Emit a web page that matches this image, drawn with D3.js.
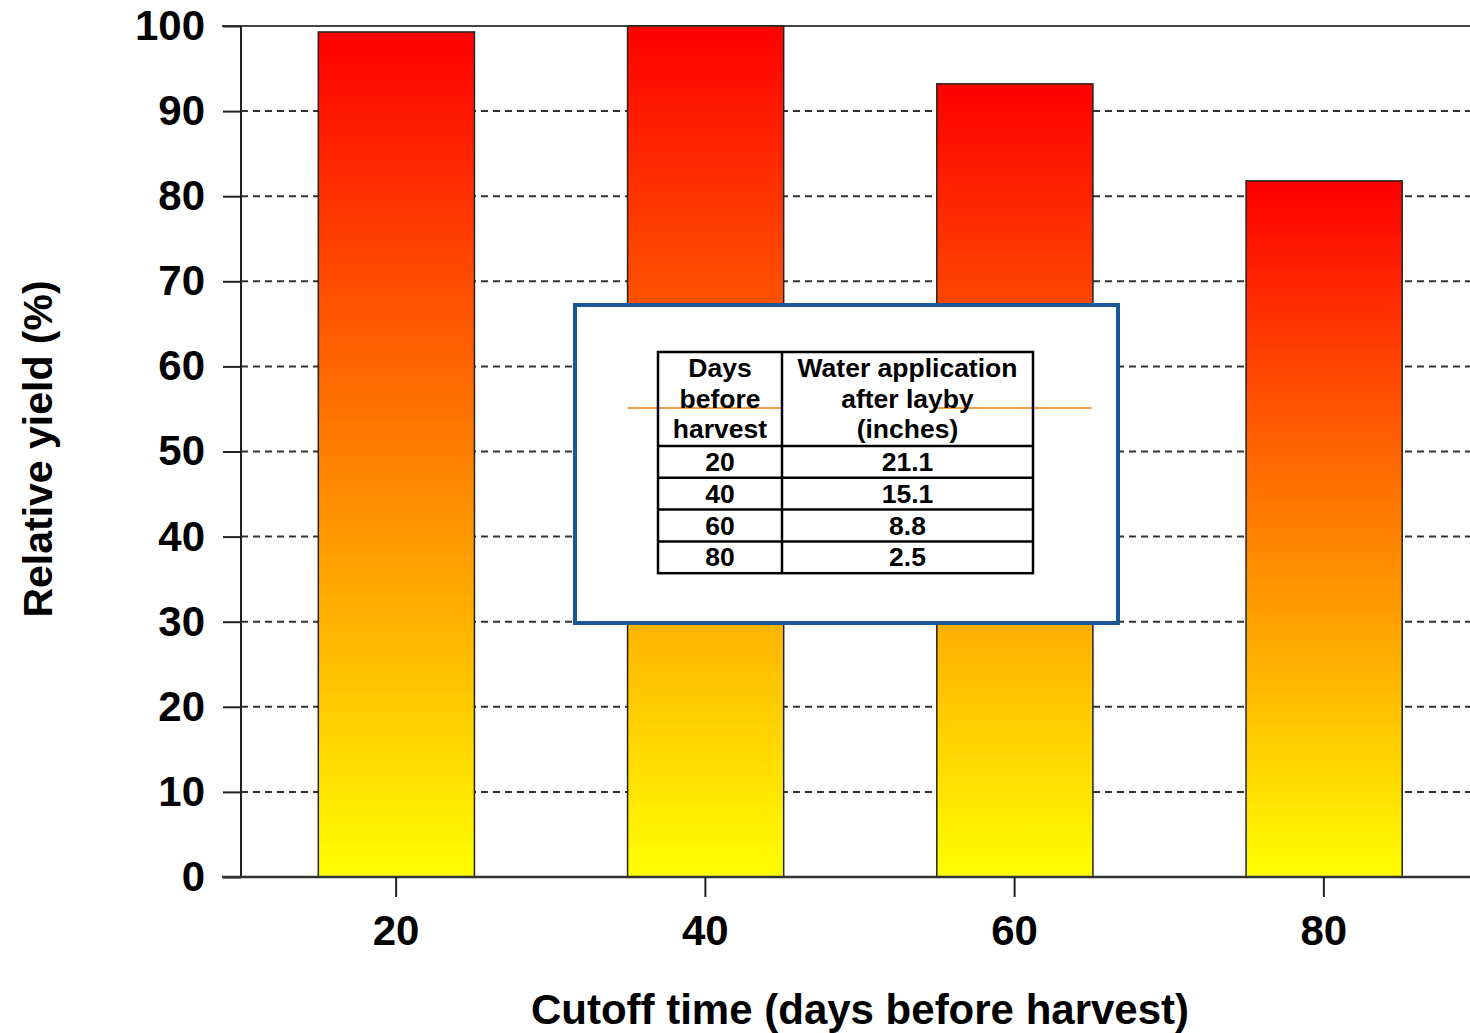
<!DOCTYPE html>
<html>
<head>
<meta charset="utf-8">
<script src="https://cdn.jsdelivr.net/npm/d3@7"></script>
<style>
  html, body { margin: 0; padding: 0; background: #fff; }
  svg { display: block; font-family: "Liberation Sans", Arial, sans-serif; }
</style>
</head>
<body>
<svg id="chart" width="1470" height="1033"></svg>
<script>
// Cutoff time (days before harvest) and relative yield (%)
const cutoffDays = [20, 40, 60, 80];
const relativeYield = [99.3, 100, 93.2, 81.8];
const yTicks = [0, 10, 20, 30, 40, 50, 60, 70, 80, 90, 100];

// Inset table: water applied after layby
const tableHeader = [["Days", "before", "harvest"], ["Water application", "after layby", "(inches)"]];
const tableDays = ["20", "40", "60", "80"];
const tableWater = ["21.1", "15.1", "8.8", "2.5"];

// Thin orange reference line at this yield level
const refLevel = 55.1;

const svg = d3.select("#chart");
const x = d3.scaleLinear().domain([10, 90]).range([241, 1478]);
const y = d3.scaleLinear().domain([0, 100]).range([877, 26]);
const barHalf = 5;

// Vertical red-to-yellow gradient for each bar
const defs = svg.append("defs");
const grad = defs.append("linearGradient")
  .attr("id", "barGrad").attr("x1", 0).attr("y1", 0).attr("x2", 0).attr("y2", 1);
grad.append("stop").attr("offset", "0%").attr("stop-color", "#ff0000");
grad.append("stop").attr("offset", "100%").attr("stop-color", "#ffff00");

// Dashed gridlines
svg.append("g").selectAll("line")
  .data(yTicks.filter(d => d > 0 && d < 100))
  .join("line")
  .attr("x1", x(10)).attr("x2", 1470)
  .attr("y1", d => y(d)).attr("y2", d => y(d))
  .attr("stroke", "#333").attr("stroke-width", 2)
  .attr("stroke-dasharray", "7,5");

// Solid top line at 100
svg.append("line")
  .attr("x1", 222).attr("x2", 1470).attr("y1", y(100)).attr("y2", y(100))
  .attr("stroke", "#444").attr("stroke-width", 2);

// Bars
svg.append("g").selectAll("rect")
  .data(cutoffDays.map((d, i) => ({ d, v: relativeYield[i] })))
  .join("rect")
  .attr("x", p => x(p.d - barHalf))
  .attr("width", p => x(p.d + barHalf) - x(p.d - barHalf) + 1.5)
  .attr("y", p => y(p.v))
  .attr("height", p => y(0) - y(p.v))
  .attr("fill", "url(#barGrad)")
  .attr("stroke", "#222").attr("stroke-width", 1.5);

// Y axis
const yAxis = svg.append("g").attr("transform", `translate(${x(10)},0)`)
  .call(d3.axisLeft(y).tickValues(yTicks).tickSize(18).tickPadding(18));
yAxis.select(".domain").attr("stroke", "#222").attr("stroke-width", 2)
  .attr("d", `M0,${y(0)}V${y(100)}`);
yAxis.selectAll(".tick line").attr("stroke", "#222").attr("stroke-width", 2);
yAxis.selectAll(".tick text")
  .attr("font-size", 42).attr("font-weight", "bold").attr("fill", "#000")
  .attr("font-family", "'Liberation Sans', Arial, sans-serif");

// X axis
const xAxis = svg.append("g").attr("transform", `translate(0,${y(0)})`)
  .call(d3.axisBottom(x).tickValues(cutoffDays).tickSize(20).tickPadding(18));
xAxis.select(".domain").attr("stroke", "#333").attr("stroke-width", 2.5)
  .attr("d", `M222,0H1470`);
xAxis.selectAll(".tick line").attr("stroke", "#222").attr("stroke-width", 2);
xAxis.selectAll(".tick text")
  .attr("font-size", 42).attr("font-weight", "bold").attr("fill", "#000")
  .attr("font-family", "'Liberation Sans', Arial, sans-serif");

// Axis titles
svg.append("text")
  .attr("x", 860).attr("y", 1024)
  .attr("text-anchor", "middle")
  .attr("font-size", 42).attr("font-weight", "bold")
  .text("Cutoff time (days before harvest)");

svg.append("text")
  .attr("transform", "translate(52,449) rotate(-90)")
  .attr("text-anchor", "middle")
  .attr("font-size", 41).attr("font-weight", "bold")
  .text("Relative yield (%)");

// Inset box with the water table
const box = svg.append("g");
box.append("rect")
  .attr("x", 575).attr("y", 305).attr("width", 543).attr("height", 318)
  .attr("fill", "#fff").attr("stroke", "#1b5699").attr("stroke-width", 4);

const tx0 = 658, tx1 = 782, tx2 = 1033;
const headTop = 352, headBottom = 446, rowH = 31.8;
const tableBottom = headBottom + rowH * tableDays.length;

// Orange reference line segments across the two middle bars
svg.append("g").selectAll("line")
  .data([40, 60])
  .join("line")
  .attr("x1", d => x(d - barHalf)).attr("x2", d => x(d + barHalf))
  .attr("y1", y(refLevel)).attr("y2", y(refLevel))
  .attr("stroke", "#f07a10").attr("stroke-width", 1.5);

const tbl = svg.append("g");
tbl.append("rect")
  .attr("x", tx0).attr("y", headTop).attr("width", tx2 - tx0).attr("height", tableBottom - headTop)
  .attr("fill", "none").attr("stroke", "#000").attr("stroke-width", 2.5);
tbl.append("line").attr("x1", tx1).attr("x2", tx1).attr("y1", headTop).attr("y2", tableBottom)
  .attr("stroke", "#000").attr("stroke-width", 2.5);
tbl.selectAll("line.row")
  .data(d3.range(tableDays.length))
  .join("line").attr("class", "row")
  .attr("x1", tx0).attr("x2", tx2)
  .attr("y1", i => headBottom + rowH * i).attr("y2", i => headBottom + rowH * i)
  .attr("stroke", "#000").attr("stroke-width", 2.5);

const colCenters = [(tx0 + tx1) / 2, (tx1 + tx2) / 2];
tableHeader.forEach((lines, c) => {
  lines.forEach((t, k) => {
    tbl.append("text")
      .attr("x", colCenters[c]).attr("y", 377 + k * 30.5)
      .attr("text-anchor", "middle")
      .attr("font-size", 26.5).attr("font-weight", "bold")
      .text(t);
  });
});
[tableDays, tableWater].forEach((col, c) => {
  col.forEach((t, r) => {
    tbl.append("text")
      .attr("x", colCenters[c]).attr("y", headBottom + rowH * r + rowH / 2 + 9)
      .attr("text-anchor", "middle")
      .attr("font-size", 26.5).attr("font-weight", "bold")
      .text(t);
  });
});
</script>
</body>
</html>
